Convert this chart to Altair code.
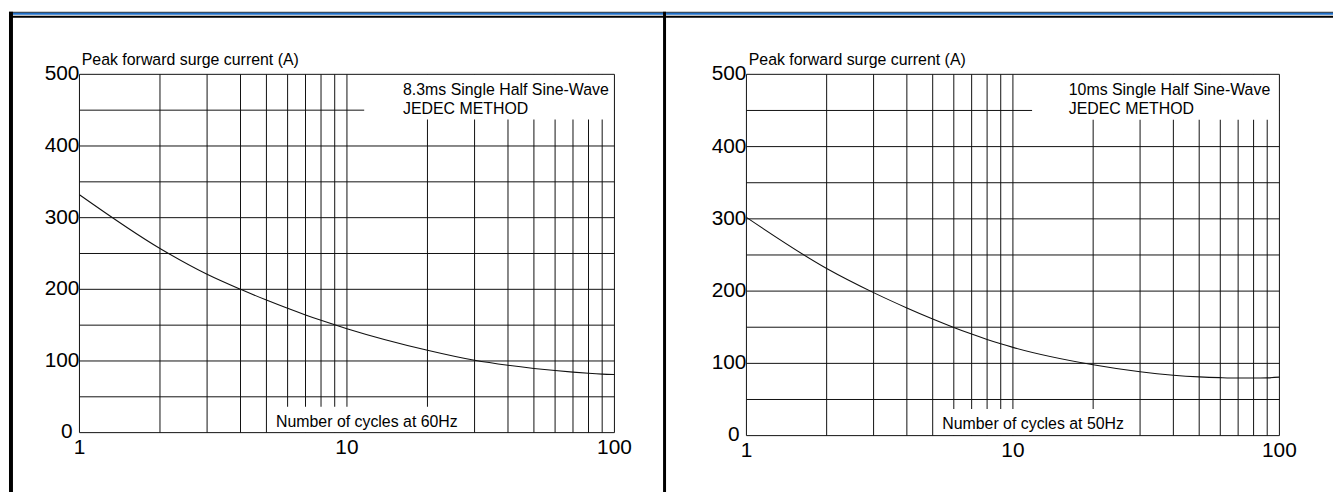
import altair as alt
import pandas as pd

# ---------------- data ----------------
CYCLES = [1, 2, 3, 4, 5, 6, 7, 8, 9, 10, 20, 30, 40, 50, 60, 70, 80, 90, 100]
CURRENT_60HZ = [332, 257, 221, 200, 185, 173.5, 164.3, 156.8, 150.5, 145.1, 115, 101, 94, 89.6, 86.6, 84.4, 82.8, 81.7, 81.1]
CURRENT_50HZ = [302, 231.3, 197.9, 176.7, 161.4, 149.7, 140.5, 133.1, 127.1, 122.1, 98, 88.3, 83.6, 81.3, 80.2, 79.7, 79.7, 79.95, 80.9]

X_GRID = [2, 3, 4, 5, 6, 7, 8, 9, 10, 20, 30, 40, 50, 60, 70, 80, 90]
Y_GRID = [50, 100, 150, 200, 250, 300, 350, 400, 450]
X_TICKS = [1, 10, 100]
Y_TICKS = [100, 200, 300, 400, 500]
Y_ZERO = [0]

Y_TITLE = "Peak forward surge current (A)"
NOTE_LEFT = ["8.3ms Single Half Sine-Wave", "JEDEC METHOD"]
NOTE_RIGHT = ["10ms Single Half Sine-Wave", "JEDEC METHOD"]
XLABEL_LEFT = "Number of cycles at 60Hz"
XLABEL_RIGHT = "Number of cycles at 50Hz"

FONT = "Liberation Sans"
H = 484


def panel(width, x1_px, x100_px, y0_px, y500_px, cycles, current, note, xlabel,
          box_top_x, box_bot_y, text_y_bottom, left_border):
    dec = (x100_px - x1_px) / 2.0
    xdom = [10 ** (-x1_px / dec), 10 ** (2 + (width - x100_px) / dec)]
    per = (y0_px - y500_px) / 500.0
    ydom = [-(H - y0_px) / per, 500 + y500_px / per]
    xs = alt.Scale(type="log", domain=xdom, nice=False)
    ys = alt.Scale(type="linear", domain=ydom, nice=False, zero=False)

    def X(f):
        return alt.X(f, type="quantitative", scale=xs, axis=None)

    def Y(f):
        return alt.Y(f, type="quantitative", scale=ys, axis=None)

    vgrid = pd.DataFrame({"x": X_GRID, "x2": X_GRID, "y": [0] * len(X_GRID), "y2": [500] * len(X_GRID)})
    hgrid = pd.DataFrame({"x": [1] * len(Y_GRID), "x2": [100] * len(Y_GRID), "y": Y_GRID, "y2": Y_GRID})
    frame = pd.DataFrame({"x": [1, 100, 1, 1], "x2": [1, 100, 100, 100],
                          "y": [0, 0, 0, 500], "y2": [500, 500, 0, 500]})
    boxes = pd.DataFrame({"x": [box_top_x, 5.1], "x2": [100, 28],
                          "y": [437, 0], "y2": [500, box_bot_y]})
    curve = pd.DataFrame({"n": cycles, "i": current})

    rule_style = dict(color="#111111", strokeWidth=1)
    grid_v = alt.Chart(vgrid).mark_rule(**rule_style).encode(x=X("x"), x2="x2", y=Y("y"), y2="y2")
    grid_h = alt.Chart(hgrid).mark_rule(**rule_style).encode(x=X("x"), x2="x2", y=Y("y"), y2="y2")
    cover = alt.Chart(boxes).mark_rect(color="white").encode(x=X("x"), x2="x2", y=Y("y"), y2="y2")
    frm = alt.Chart(frame).mark_rule(**rule_style).encode(x=X("x"), x2="x2", y=Y("y"), y2="y2")
    line = alt.Chart(curve).mark_line(color="#111111", strokeWidth=1.1, interpolate="monotone").encode(
        x=X("n"), y=Y("i"))

    yt = pd.DataFrame({"x": [1] * len(Y_TICKS), "y": Y_TICKS, "t": [str(v) for v in Y_TICKS]})
    ylab = alt.Chart(yt).mark_text(font=FONT, fontSize=21, align="right", baseline="middle",
                                   color="black").encode(x=X("x"), y=Y("y"), text="t:N")
    y0t = pd.DataFrame({"x": [1], "y": Y_ZERO, "t": [str(v) for v in Y_ZERO]})
    y0lab = alt.Chart(y0t).mark_text(font=FONT, fontSize=21, align="right", baseline="middle",
                                     dx=-7, dy=-1, color="black").encode(x=X("x"), y=Y("y"), text="t:N")
    xt = pd.DataFrame({"x": X_TICKS, "y": [0] * len(X_TICKS), "t": [str(v) for v in X_TICKS]})
    xlab = alt.Chart(xt).mark_text(font=FONT, fontSize=21, align="center", baseline="alphabetic",
                                   dy=22, color="black").encode(x=X("x"), y=Y("y"), text="t:N")

    tt = pd.DataFrame({"x": [1.02], "y": [500], "t": [Y_TITLE]})
    title = alt.Chart(tt).mark_text(font=FONT, fontSize=16, align="left", baseline="alphabetic",
                                    dy=-9, color="black").encode(x=X("x"), y=Y("y"), text="t:N")
    nt = pd.DataFrame({"x": [16.2, 16.2], "y": [471, 445], "t": note})
    notes = alt.Chart(nt).mark_text(font=FONT, fontSize=16, align="left", baseline="alphabetic",
                                    color="black").encode(x=X("x"), y=Y("y"), text="t:N")
    bt = pd.DataFrame({"x": [5.43], "y": [text_y_bottom], "t": [xlabel]})
    btext = alt.Chart(bt).mark_text(font=FONT, fontSize=16, align="left", baseline="alphabetic",
                                    color="black").encode(x=X("x"), y=Y("y"), text="t:N")

    # decorative page frame (top double line, thick verticals)
    dummy = pd.DataFrame({"a": [0]})
    top1 = alt.Chart(dummy).mark_rule(color="#111111", strokeWidth=1).encode(
        x=alt.value(0), x2=alt.value(width), y=alt.value(0.5))
    top2 = alt.Chart(dummy).mark_rule(color="#1f6fc8", strokeWidth=2).encode(
        x=alt.value(0), x2=alt.value(width), y=alt.value(2))
    top3 = alt.Chart(dummy).mark_rule(color="black", strokeWidth=2).encode(
        x=alt.value(0), x2=alt.value(width), y=alt.value(5))
    layers = [grid_v, grid_h, cover, frm, line, ylab, y0lab, xlab, title, notes, btext, top1, top2, top3]
    if left_border:
        lb = alt.Chart(dummy).mark_rule(color="black", strokeWidth=4).encode(
            x=alt.value(2), y=alt.value(0), y2=alt.value(H))
        div = alt.Chart(dummy).mark_rule(color="black", strokeWidth=3).encode(
            x=alt.value(width - 1.5), y=alt.value(0), y2=alt.value(H))
        layers += [lb, div]
    return alt.layer(*layers).properties(width=width, height=H)


left = panel(662, 71, 610, 424, 63, CYCLES, CURRENT_60HZ, NOTE_LEFT, XLABEL_LEFT,
             11.6, 36, 8.5, True)
right = panel(672, 81, 618, 427, 63, CYCLES, CURRENT_50HZ, NOTE_RIGHT, XLABEL_RIGHT,
              11.8, 37, 9.6, False)

chart = alt.hconcat(left, right, spacing=0, bounds="flush", padding=0).configure_view(
    stroke=None).properties(background="white")

chart.save("out.html", embed_options={"renderer": "svg", "actions": False})
